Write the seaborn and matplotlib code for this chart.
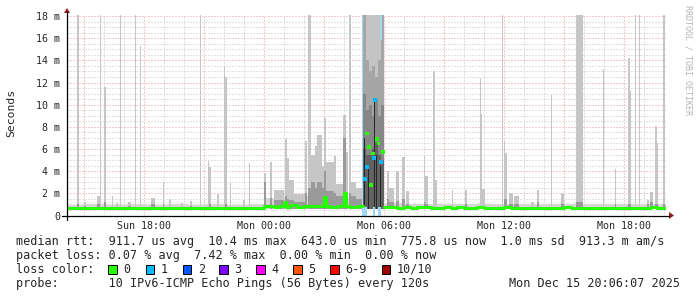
import matplotlib
matplotlib.use("Agg")
import matplotlib.pyplot as plt
import matplotlib.dates as mdates
from matplotlib.patches import Rectangle, Polygon
from matplotlib.lines import Line2D
import seaborn as sns
import pandas as pd

# ---------------------------------------------------------------- data
# smoke spikes: start time, duration (minutes), outer smoke top (ms), inner core top (ms)
spike_time = [
    "12-14 14:40", "12-14 15:01", "12-14 15:39", "12-14 15:49", "12-14 16:00", "12-14 16:24",
    "12-14 16:36", "12-14 16:49", "12-14 17:12", "12-14 17:34", "12-14 17:49", "12-14 18:21",
    "12-14 18:58", "12-14 19:15", "12-14 19:51", "12-14 20:18", "12-14 20:49", "12-14 21:12",
    "12-14 21:15", "12-14 21:39", "12-14 22:01", "12-14 22:04", "12-14 22:18", "12-14 22:58",
    "12-14 23:15",
    "12-15 00:00", "12-15 00:18", "12-15 00:30", "12-15 01:03", "12-15 01:09", "12-15 01:15",
    "12-15 01:30", "12-15 02:04", "12-15 02:13", "12-15 02:22", "12-15 02:34", "12-15 02:40",
    "12-15 02:55", "12-15 03:01", "12-15 03:07", "12-15 03:31", "12-15 03:37", "12-15 03:58",
    "12-15 04:07", "12-15 04:15", "12-15 04:21", "12-15 04:36",
    "12-15 06:09", "12-15 06:15", "12-15 06:36", "12-15 06:55", "12-15 07:05", "12-15 08:00",
    "12-15 08:03", "12-15 08:28", "12-15 08:34", "12-15 09:24", "12-15 10:02", "12-15 10:48",
    "12-15 10:51", "12-15 10:54", "12-15 11:53", "12-15 12:00", "12-15 12:03", "12-15 12:15",
    "12-15 12:30", "12-15 13:20", "12-15 13:39", "12-15 14:22", "12-15 14:52", "12-15 15:35",
    "12-15 15:49", "12-15 16:58", "12-15 17:34", "12-15 18:13", "12-15 18:19", "12-15 18:32",
    "12-15 18:44", "12-15 19:10", "12-15 19:18", "12-15 19:34", "12-15 19:40", "12-15 19:58",
]
spike_minutes = [
    6, 6, 9, 3, 6, 3,
    6, 3, 9, 3, 3, 12,
    3, 6, 6, 6, 3, 3,
    6, 6, 3, 6, 3, 6,
    3,
    6, 6, 30, 6, 6, 15,
    33, 6, 9, 12, 6, 15,
    6, 6, 24, 6, 21, 9,
    6, 6, 15, 21,
    6, 15, 9, 9, 9, 3,
    9, 6, 6, 3, 6, 3,
    3, 9, 3, 3, 6, 12,
    15, 9, 6, 3, 9, 12,
    9, 3, 3, 6, 3, 3,
    3, 6, 9, 6, 3, 6,
]
spike_outer = [
    18.5, 1.2, 1.75, 18.5, 11.6, 1.8,
    1.1, 18.5, 1.2, 18.5, 15.3, 1.6,
    3.0, 1.5, 1.1, 1.3, 18.5, 4.9,
    4.4, 1.9, 13.4, 12.5, 2.9, 1.4,
    4.7,
    3.8, 4.85, 2.3, 6.9, 5.2, 3.2,
    1.9, 6.7, 18.5, 5.5, 6.3, 7.25,
    4.5, 8.8, 4.8, 5.4, 2.8, 9.05,
    5.7, 18.5, 3.0, 2.5,
    4.0, 2.5, 4.0, 5.3, 2.2, 5.4,
    3.6, 13.0, 3.2, 2.3, 2.3, 12.4,
    9.15, 2.4, 18.5, 6.6, 5.6, 2.0,
    1.8, 1.2, 2.3, 10.9, 2.0, 18.5,
    18.5, 13.2, 4.2, 14.2, 11.2, 18.5,
    18.5, 1.4, 2.1, 8.06, 6.5, 18.5,
]
spike_inner = [
    1.0, 0.9, 1.0, 0.0, 1.2, 0.0,
    0.0, 0.0, 0.9, 0.0, 0.0, 1.0,
    1.0, 0.0, 0.0, 0.9, 0.0, 0.0,
    1.0, 0.0, 0.0, 1.0, 0.0, 0.0,
    0.0,
    3.0, 1.6, 1.4, 1.8, 1.5, 1.4,
    1.2, 2.0, 2.5, 3.0, 2.5, 3.0,
    2.5, 4.0, 2.2, 2.0, 1.8, 7.0,
    2.0, 2.0, 1.8, 1.5,
    1.5, 1.2, 1.3, 1.5, 1.0, 1.2,
    1.0, 0.0, 0.0, 0.0, 1.0, 0.0,
    0.0, 0.0, 0.0, 1.5, 1.5, 1.0,
    1.0, 0.0, 1.2, 0.0, 1.0, 1.2,
    1.2, 0.0, 1.0, 1.0, 1.0, 0.0,
    0.0, 1.0, 1.2, 1.0, 1.0, 1.0,
]

# heavy burst Mon 04:57-06:00, 9-minute columns, nested smoke layers (ms)
burst_time = ["12-15 04:57", "12-15 05:06", "12-15 05:15", "12-15 05:24",
              "12-15 05:33", "12-15 05:42", "12-15 05:51"]
burst_l1 = [18.5, 18.5, 18.5, 18.5, 18.5, 18.5, 18.5]
burst_l2 = [18.5, 14.0, 13.0, 13.5, 12.5, 14.0, 18.5]
burst_l3 = [11.0, 9.5, 10.0, 9.0, 10.5, 9.0, 10.0]
burst_l4 = [6.0, 5.5, 5.5, 6.0, 6.5, 5.5, 5.0]
# darkest streaks inside the burst
streak_time = ["12-15 05:00", "12-15 05:12", "12-15 05:30", "12-15 05:36", "12-15 05:48"]
streak_minutes = [4, 3, 4, 3, 3]
streak_top = [7.0, 4.5, 10.4, 5.5, 4.5]

# median samples inside the burst: time, ms, lost pings
burst_med_time = ["12-15 05:03", "12-15 05:09", "12-15 05:10", "12-15 05:16", "12-15 05:22",
                  "12-15 05:27", "12-15 05:31", "12-15 05:34", "12-15 05:40", "12-15 05:44",
                  "12-15 05:52", "12-15 05:58"]
burst_med_ms = [3.3, 4.4, 7.4, 6.2, 2.75, 5.6, 5.2, 10.4, 6.9, 6.5, 4.85, 5.7]
burst_med_loss = [1, 1, 0, 0, 0, 0, 1, 1, 0, 0, 1, 0]

# median rtt line (ms), before and after the burst
med_pre_time = [
    "12-14 14:10", "12-14 14:30", "12-14 14:50", "12-14 15:10", "12-14 15:30", "12-14 15:50",
    "12-14 16:10", "12-14 16:30", "12-14 16:50", "12-14 17:10", "12-14 17:30", "12-14 17:50",
    "12-14 18:10", "12-14 18:30", "12-14 18:50", "12-14 19:05", "12-14 19:25", "12-14 19:45",
    "12-14 20:05", "12-14 20:25", "12-14 20:45", "12-14 21:05", "12-14 21:25", "12-14 21:45",
    "12-14 22:05", "12-14 22:25", "12-14 22:45", "12-14 23:05", "12-14 23:25", "12-14 23:45",
    "12-15 00:00", "12-15 00:15", "12-15 00:30", "12-15 00:45", "12-15 01:00", "12-15 01:06",
    "12-15 01:20", "12-15 01:40", "12-15 02:00", "12-15 02:20", "12-15 02:40", "12-15 03:00",
    "12-15 03:06", "12-15 03:20", "12-15 03:40", "12-15 04:00", "12-15 04:06", "12-15 04:20",
    "12-15 04:40", "12-15 04:57",
]
med_pre_ms = [
    0.68, 0.70, 0.67, 0.70, 0.68, 0.71,
    0.69, 0.66, 0.70, 0.68, 0.71, 0.69,
    0.67, 0.70, 0.72, 0.66, 0.70, 0.68,
    0.71, 0.69, 0.67, 0.72, 0.70, 0.68,
    0.70, 0.67, 0.69, 0.71, 0.68, 0.70,
    0.82, 0.90, 0.78, 0.85, 1.20, 0.80,
    0.92, 0.80, 0.88, 0.83, 0.90, 1.70,
    0.85, 0.80, 0.88, 2.00, 0.85, 0.78,
    0.82, 0.82,
]
med_post_time = [
    "12-15 06:00", "12-15 06:20", "12-15 06:40", "12-15 07:00", "12-15 07:20", "12-15 07:40",
    "12-15 08:00", "12-15 08:20", "12-15 08:40", "12-15 09:00", "12-15 09:20", "12-15 09:40",
    "12-15 10:00", "12-15 10:20", "12-15 10:40", "12-15 11:00", "12-15 11:20", "12-15 11:40",
    "12-15 12:00", "12-15 12:20", "12-15 12:40", "12-15 13:00", "12-15 13:20", "12-15 13:40",
    "12-15 14:00", "12-15 14:20", "12-15 14:40", "12-15 15:00", "12-15 15:20", "12-15 15:40",
    "12-15 16:00", "12-15 16:20", "12-15 16:40", "12-15 17:00", "12-15 17:20", "12-15 17:40",
    "12-15 18:00", "12-15 18:20", "12-15 18:40", "12-15 19:00", "12-15 19:20", "12-15 19:40",
    "12-15 20:06",
]
med_post_ms = [
    0.74, 0.76, 0.72, 0.74, 0.71, 0.73,
    0.75, 0.72, 0.70, 0.73, 0.71, 0.74,
    0.72, 0.70, 0.73, 0.71, 0.69, 0.72,
    0.74, 0.70, 0.72, 0.69, 0.71, 0.70,
    0.72, 0.69, 0.71, 0.73, 0.70, 0.72,
    0.69, 0.71, 0.70, 0.72, 0.69, 0.71,
    0.70, 0.72, 0.69, 0.71, 0.73, 0.70,
    0.70,
]

# faint haze just above the median (ms)
haze_time = [
    "12-14 14:10", "12-14 15:10", "12-14 16:10", "12-14 17:10", "12-14 18:10", "12-14 19:10",
    "12-14 20:10", "12-14 21:10", "12-14 22:10", "12-14 23:10", "12-15 00:00", "12-15 01:00",
    "12-15 02:00", "12-15 03:00", "12-15 04:00", "12-15 05:00", "12-15 06:00", "12-15 07:00",
    "12-15 08:00", "12-15 09:00", "12-15 10:00", "12-15 11:00", "12-15 12:00", "12-15 13:00",
    "12-15 14:00", "12-15 15:00", "12-15 16:00", "12-15 17:00", "12-15 18:00", "12-15 19:00",
    "12-15 20:06",
]
haze_top = [
    0.95, 1.00, 0.95, 1.00, 0.95, 1.00,
    0.95, 1.00, 0.95, 1.00, 1.60, 1.70,
    1.80, 1.70, 1.60, 1.60, 1.10, 1.05,
    1.00, 1.00, 1.05, 1.00, 1.05, 1.00,
    1.00, 1.05, 1.00, 1.00, 1.05, 1.05,
    1.05,
]

# loss indicator stripes: start, duration (min), bottom (ms), top (ms)
lossbar_time = ["12-15 04:56", "12-15 04:57", "12-15 05:27", "12-15 05:42", "12-15 05:48"]
lossbar_minutes = [1.5, 12, 6, 9, 6]
lossbar_lo = [0.0, 0.0, 0.0, 0.0, 15.8]
lossbar_hi = [18.1, 0.75, 0.75, 0.75, 18.1]

loss_labels = ["0", "1", "2", "3", "4", "5", "6-9", "10/10"]
loss_colors = ["#26ff00", "#00b8ff", "#0059ff", "#7e00ff", "#ff00ff", "#ff5500", "#ff0000", "#a10000"]
loss_box_x = [108, 145.7, 182.7, 219.3, 256, 293.3, 330, 381.7]

x_tick_time = ["12-14 18:00", "12-15 00:00", "12-15 06:00", "12-15 12:00", "12-15 18:00"]
x_tick_label = ["Sun 18:00", "Mon 00:00", "Mon 06:00", "Mon 12:00", "Mon 18:00"]
y_ticks = [0, 2, 4, 6, 8, 10, 12, 14, 16, 18]
y_tick_labels = ["0", "2 m", "4 m", "6 m", "8 m", "10 m", "12 m", "14 m", "16 m", "18 m"]

line_rtt = "median rtt:  911.7 us avg  10.4 ms max  643.0 us min  775.8 us now  1.0 ms sd  913.3 m am/s"
line_loss = "packet loss: 0.07 % avg  7.42 % max  0.00 % min  0.00 % now"
line_probe = "probe:       10 IPv6-ICMP Echo Pings (56 Bytes) every 120s"
stamp = "Mon Dec 15 20:06:07 2025"

# ---------------------------------------------------------------- figure
W, H = 697, 297
MONO = "DejaVu Sans Mono"
sns.set_style("white")
plt.rcParams["font.family"] = [MONO]


def T(s):
    return mdates.date2num(pd.Timestamp("2025-" + s))


def P(x, y):
    return (x / W, 1 - y / H)


fig = plt.figure(figsize=(W / 100, H / 100), dpi=100)
L, R, TOP, BOT = 67, 666, 15, 215.5
ax = fig.add_axes([L / W, 1 - BOT / H, (R - L) / W, (BOT - TOP) / H])
x0, x1 = T("12-14 14:10"), T("12-15 20:06")
YMAX = (BOT - TOP) / 11.083
ax.set_xlim(x0, x1)
ax.set_ylim(0, YMAX)
for s in ax.spines.values():
    s.set_visible(False)

# grid (under the data), dotted
minor_c, major_c = "#c4c4c4", "#e29a9a"
DOT = (1, 2)
for v in [i * 0.5 for i in range(1, 37)]:
    if v % 2 != 0:
        ax.axhline(v, color=minor_c, lw=0.72, dashes=DOT, zorder=0)
for v in y_ticks[1:]:
    ax.axhline(v, color=major_c, lw=0.72, dashes=DOT, zorder=0.1)
for t in pd.date_range("2025-12-14 15:00", "2025-12-15 20:00", freq="h"):
    major = t.hour % 3 == 0
    ax.axvline(mdates.date2num(t), color=major_c if major else minor_c, lw=0.72,
               dashes=DOT, zorder=0.1 if major else 0)

# haze
hx = [T(s) for s in haze_time]
ax.fill_between(hx, 0.58, haze_top, step="post", color="#d6d6d6", lw=0, zorder=1)

# smoke spikes
sx = [T(s) for s in spike_time]
sw = [m / 1440 for m in spike_minutes]
ax.bar(sx, [min(v, YMAX) - 0.6 for v in spike_outer], width=sw, bottom=0.6, align="edge",
       color="#c6c6c6", lw=0, zorder=2)
ix = [x for x, v in zip(sx, spike_inner) if v > 0]
iw = [w for w, v in zip(sw, spike_inner) if v > 0]
iv = [v for v in spike_inner if v > 0]
ax.bar(ix, [v - 0.6 for v in iv], width=iw, bottom=0.6, align="edge",
       color="#9a9a9a", lw=0, zorder=3)

# burst
bx = [T(s) for s in burst_time]
for layer, col, z in [(burst_l1, "#c4c4c4", 2), (burst_l2, "#a6a6a6", 3),
                      (burst_l3, "#878787", 4), (burst_l4, "#626262", 5)]:
    ax.bar(bx, [min(v, YMAX) - 0.6 for v in layer], width=9 / 1440, bottom=0.6, align="edge",
           color=col, lw=0, zorder=z)
ax.bar([T(s) for s in streak_time], [v - 0.6 for v in streak_top],
       width=[m / 1440 for m in streak_minutes], bottom=0.6, align="edge",
       color="#262626", lw=0, zorder=6)

# loss stripes
lx = [T(s) for s in lossbar_time]
ax.bar(lx, [h - l for h, l in zip(lossbar_hi, lossbar_lo)], width=[m / 1440 for m in lossbar_minutes],
       bottom=lossbar_lo, align="edge", color="#9fd8f4", lw=0, zorder=7)

# median line
green = loss_colors[0]
pre = pd.DataFrame({"t": [T(s) for s in med_pre_time], "ms": med_pre_ms})
post = pd.DataFrame({"t": [T(s) for s in med_post_time], "ms": med_post_ms})
for df in (pre, post):
    sns.lineplot(data=df, x="t", y="ms", ax=ax, color=green, lw=2.2, drawstyle="steps-post",
                 estimator=None, sort=False, zorder=8)
bm = pd.DataFrame({"t": [T(s) for s in burst_med_time], "ms": burst_med_ms,
                   "loss": [loss_labels[i] for i in burst_med_loss]})
sns.scatterplot(data=bm, x="t", y="ms", hue="loss", palette=dict(zip(loss_labels, loss_colors)),
                marker="s", s=7, linewidth=0, legend=False, ax=ax, zorder=9)

# ticks
ax.set_xticks([T(s) for s in x_tick_time])
ax.set_xticklabels(x_tick_label, fontsize=7.2, family=MONO)
ax.set_yticks(y_ticks)
ax.set_yticklabels(y_tick_labels, fontsize=7.2, family=MONO)
ax.tick_params(axis="both", length=0)
ax.tick_params(axis="x", pad=4)
ax.tick_params(axis="y", pad=5)
ax.set_xlabel("")
ax.set_ylabel("")

# axis lines and arrows
fig.add_artist(Line2D([62 / W, 669 / W], [1 - BOT / H] * 2, color="black", lw=0.9))
fig.add_artist(Line2D([L / W] * 2, [1 - 220 / H, 1 - 12 / H], color="black", lw=0.9))
fig.add_artist(Polygon([P(669, 212), P(674, 215.5), P(669, 219)], closed=True,
                       transform=fig.transFigure, color="#8e1b1b", lw=0))
fig.add_artist(Polygon([P(64, 13), P(67, 8), P(70, 13)], closed=True,
                       transform=fig.transFigure, color="#8e1b1b", lw=0))

# side labels
fig.text(11 / W, 1 - 113 / H, "Seconds", rotation=90, ha="center", va="center",
         fontsize=8.2, family=MONO)
fig.text(688 / W, 1 - 60 / H, "RRDTOOL / TOBI OETIKER", rotation=270, ha="center",
         va="center", fontsize=6, family=MONO, color="#b4b4b4")

# legend block
FS = 8.5
fig.text(16 / W, 1 - 241 / H, line_rtt, ha="left", va="center", fontsize=FS, family=MONO)
fig.text(16 / W, 1 - 255.5 / H, line_loss, ha="left", va="center", fontsize=FS, family=MONO)
fig.text(16 / W, 1 - 269.5 / H, "loss color:", ha="left", va="center", fontsize=FS, family=MONO)
for bxp, lab, col in zip(loss_box_x, loss_labels, loss_colors):
    fig.add_artist(Rectangle(P(bxp, 274), 8.5 / W, 9 / H, transform=fig.transFigure,
                             facecolor=col, edgecolor="black", lw=0.7))
    fig.text((bxp + 15) / W, 1 - 269.5 / H, lab, ha="left", va="center", fontsize=FS, family=MONO)
fig.text(16 / W, 1 - 283.5 / H, line_probe, ha="left", va="center", fontsize=FS, family=MONO)
fig.text(680 / W, 1 - 283.5 / H, stamp, ha="right", va="center", fontsize=FS, family=MONO)

fig.savefig("out.png", dpi=100)
